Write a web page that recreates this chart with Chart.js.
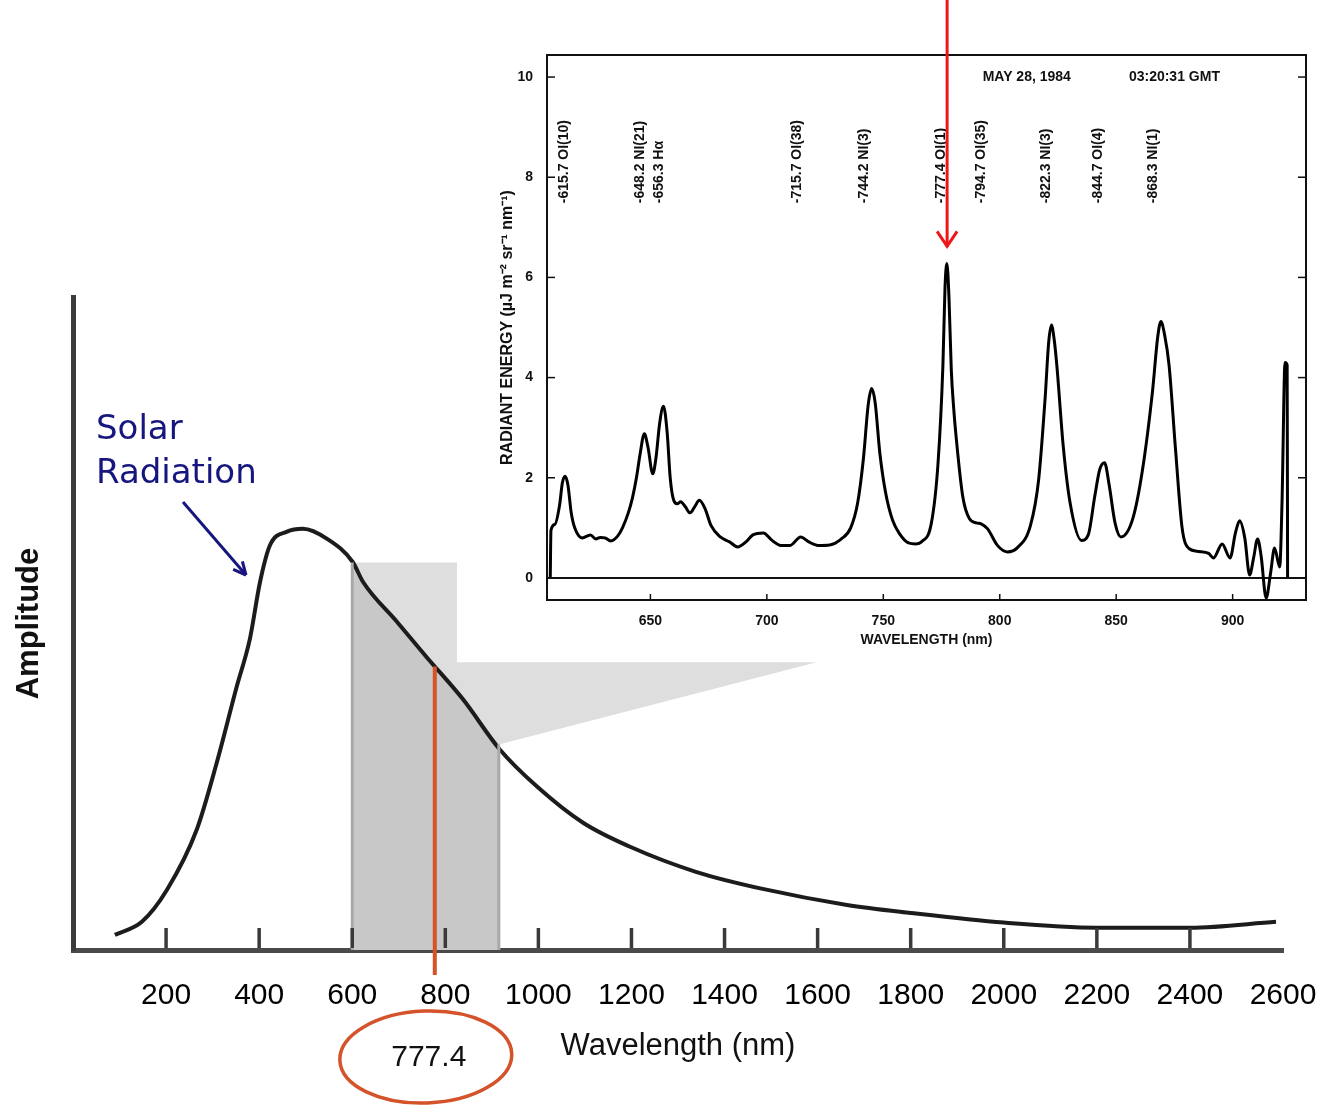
<!DOCTYPE html>
<html>
<head>
<meta charset="utf-8">
<script src="https://cdn.jsdelivr.net/npm/chart.js@4.4.1/dist/chart.umd.min.js"></script>
<style>
  html, body { margin: 0; padding: 0; background: #fff; }
  #wrap { position: relative; width: 1325px; height: 1106px; overflow: hidden; }
  #mainChart { position: absolute; left: 0; top: 0; }
  #insetChart { position: absolute; left: 480px; top: 0; }
</style>
</head>
<body>
<div id="wrap">
  <canvas id="mainChart" width="1325" height="1106"></canvas>
  <canvas id="insetChart" width="845" height="660"></canvas>
</div>
<script>
/* ---------- main plot: solar radiation curve ---------- */
const solarNm  = [90, 148, 202, 266, 309, 352, 380, 402, 423, 460, 494, 546, 601, 623, 696, 760, 838, 917, 997, 1096, 1197, 1340, 1482, 1663, 1800, 2000, 2200, 2400, 2585];
const solarAmp = [3.6, 6.7, 14.3, 28.6, 44.5, 62.6, 73.8, 87.4, 96, 99.3, 100, 97.6, 92.1, 87.4, 77.9, 69.5, 59.5, 47.6, 38.8, 30.2, 24.5, 18.5, 14.5, 10.7, 8.8, 6.5, 5.3, 5.3, 6.7];
const mainXTicks = [200, 400, 600, 800, 1000, 1200, 1400, 1600, 1800, 2000, 2200, 2400, 2600];
const bandNm = [600, 915];
const markNm = 777.4;

/* ---------- inset: emission spectrum ---------- */
const specNm  = [607.0, 607.3, 609, 611, 612.2, 613.4, 614.6, 616, 617.5, 620.7, 624.3, 626.5, 628.5, 630.5, 633, 636, 638, 640.5,
  642.3, 644, 645.5, 647.4, 649, 651, 652.4, 654, 655.6, 657.2, 658.5, 660, 661.5, 663, 665, 667, 669, 671, 673.5, 676, 680, 684,
  687.5, 691, 694, 698.5, 702, 706, 710, 714.5, 718, 722, 727, 732, 736, 739, 741.5, 743.5, 745, 746.5, 748.5, 751, 754, 757,
  760.8, 764, 766.4, 770.7, 773.5, 775.6, 776.5, 777.3, 778.2, 779.2, 780.2, 781.3, 784.1, 787, 790, 792, 794.8, 799, 803.3, 807.5,
  813.2, 816.7, 819.5, 821, 822.2, 823.4, 824.5, 827.3, 830.2, 835.1, 838, 840.8, 842.9, 845, 847, 849.5, 852, 857.1, 861.3,
  865.6, 867.8, 869.2, 870.8, 872.7, 875.5, 878.3, 881.2, 885.4, 889.7, 891.8, 895.5, 898.9, 901.2, 903, 905.2, 907.3, 909,
  910.7, 912.2, 914.4, 916.3, 918, 920.2, 921.2, 922.5, 923.4, 923.6];
const specVal = [0, 0.95, 1.07, 1.45, 1.9, 2.03, 1.85, 1.3, 1.0, 0.8, 0.86, 0.78, 0.81, 0.8, 0.74, 0.84, 1.0, 1.3,
  1.6, 2.0, 2.45, 2.88, 2.6, 2.08, 2.4, 3.1, 3.43, 2.9, 2.0, 1.55, 1.48, 1.52, 1.42, 1.3, 1.42, 1.55, 1.38, 1.05, 0.82, 0.72,
  0.62, 0.72, 0.86, 0.9, 0.76, 0.65, 0.65, 0.82, 0.72, 0.65, 0.66, 0.78, 1.0, 1.5, 2.4, 3.45, 3.78, 3.5, 2.5, 1.7, 1.15, 0.88,
  0.7, 0.68, 0.72, 1.11, 2.29, 4.25, 5.8, 6.28, 5.6, 4.15, 3.4, 2.8, 1.63, 1.18, 1.1, 1.08, 0.98, 0.65, 0.52, 0.6,
  1.05, 1.96, 3.6, 4.7, 5.05, 4.75, 4.25, 2.61, 1.5, 0.75, 0.86, 1.63, 2.16, 2.3, 1.85, 1.1, 0.82, 1.18, 2.16,
  3.73, 4.8, 5.12, 4.85, 4.25, 2.55, 1.0, 0.59, 0.53, 0.49, 0.4, 0.68, 0.4, 0.9, 1.14, 0.8, 0.06, 0.4,
  0.78, 0.45, -0.4, 0.1, 0.6, 0.22, 1.5, 4.3, 4.25, 0];
const insetXTicks = [650, 700, 750, 800, 850, 900];
const insetYTicks = [0, 2, 4, 6, 8, 10];
const lineNm    = [615.7, 648.2, 656.3, 715.7, 744.2, 777.4, 794.7, 822.3, 844.7, 868.3];
const lineNames = ['-615.7 OI(10)', '-648.2 NI(21)', '-656.3 H\u03b1', '-715.7 OI(38)', '-744.2 NI(3)', '-777.4 OI(1)',
  '-794.7 OI(35)', '-822.3 NI(3)', '-844.7 OI(4)', '-868.3 NI(1)'];

const SANS = '"Liberation Sans", Arial, Helvetica, sans-serif';

function line(ctx, x1, y1, x2, y2) {
    ctx.beginPath();
    ctx.moveTo(x1, y1);
    ctx.lineTo(x2, y2);
    ctx.stroke();
}

// linear lookup on the solar curve, only used to place the red marker's top
function solarAt(nm) {
    for (let i = 1; i < solarNm.length; i++) {
        if (nm <= solarNm[i]) {
            const t = (nm - solarNm[i - 1]) / (solarNm[i] - solarNm[i - 1]);
            return solarAmp[i - 1] + t * (solarAmp[i] - solarAmp[i - 1]);
        }
    }
    return solarAmp[solarAmp.length - 1];
}

// grey band under the curve between bandNm[0] and bandNm[1]
function bandFill(context) {
    const chart = context.chart;
    const area = chart.chartArea;
    if (!area || !chart.scales.x) return 'rgba(0,0,0,0)';
    const x = chart.scales.x;
    const w = area.right - area.left;
    const p1 = (x.getPixelForValue(bandNm[0]) - area.left) / w;
    const p2 = (x.getPixelForValue(bandNm[1]) - area.left) / w;
    const g = chart.ctx.createLinearGradient(area.left, 0, area.right, 0);
    g.addColorStop(0, 'rgba(200,200,200,0)');
    g.addColorStop(p1, 'rgba(200,200,200,0)');
    g.addColorStop(p1, '#c8c8c8');
    g.addColorStop(p2, '#c8c8c8');
    g.addColorStop(p2, 'rgba(200,200,200,0)');
    g.addColorStop(1, 'rgba(200,200,200,0)');
    return g;
}

const mainDecor = {
    id: 'mainDecor',
    beforeDatasetsDraw(chart) {
        const { ctx, scales: { x, y } } = chart;
        // light wedge leading from the band to the inset
        ctx.save();
        ctx.fillStyle = '#dedede';
        ctx.beginPath();
        ctx.moveTo(x.getPixelForValue(600), y.getPixelForValue(92));
        ctx.lineTo(x.getPixelForValue(825), y.getPixelForValue(92));
        ctx.lineTo(x.getPixelForValue(825), y.getPixelForValue(68.3));
        ctx.lineTo(x.getPixelForValue(1598), y.getPixelForValue(68.3));
        ctx.lineTo(x.getPixelForValue(915), y.getPixelForValue(48.8));
        ctx.lineTo(x.getPixelForValue(915), y.getPixelForValue(0));
        ctx.lineTo(x.getPixelForValue(600), y.getPixelForValue(0));
        ctx.closePath();
        ctx.fill();
        ctx.restore();
    },
    afterDatasetsDraw(chart) {
        const { ctx, chartArea: a, scales: { x, y } } = chart;
        ctx.save();

        // band edges
        ctx.strokeStyle = '#a9a9a9';
        ctx.lineWidth = 3;
        line(ctx, x.getPixelForValue(bandNm[0]), y.getPixelForValue(92), x.getPixelForValue(bandNm[0]), a.bottom);
        line(ctx, x.getPixelForValue(bandNm[1]), y.getPixelForValue(48.8), x.getPixelForValue(bandNm[1]), a.bottom);

        // tick marks standing inside the plot
        ctx.strokeStyle = '#3a3a3a';
        ctx.lineWidth = 3.5;
        mainXTicks.filter(v => v < x.max).forEach(v => {
            const px = x.getPixelForValue(v);
            line(ctx, px, a.bottom - 2, px, a.bottom - 22);
        });

        // red marker at 777.4 nm
        const mx = x.getPixelForValue(markNm);
        ctx.strokeStyle = '#d4532b';
        ctx.lineWidth = 4;
        line(ctx, mx, y.getPixelForValue(solarAt(markNm)), mx, a.bottom + 25);

        ctx.lineWidth = 3.5;
        ctx.beginPath();
        ctx.ellipse(mx - 9, 1057, 86, 46, -0.04, 0, Math.PI * 2);
        ctx.stroke();

        ctx.fillStyle = '#111';
        ctx.font = '30px ' + SANS;
        ctx.textAlign = 'center';
        ctx.textBaseline = 'middle';
        ctx.fillText(String(markNm), mx - 6, 1058);

        // "Solar Radiation" label with arrow
        ctx.fillStyle = '#16167e';
        ctx.strokeStyle = '#16167e';
        ctx.font = '34px "DejaVu Sans", Verdana, sans-serif';
        ctx.textAlign = 'left';
        ctx.fillText('Solar', 96, 430);
        ctx.fillText('Radiation', 96, 474);
        ctx.lineWidth = 3;
        const ax1 = 183, ay1 = 502, ax2 = 246, ay2 = 575;
        line(ctx, ax1, ay1, ax2, ay2);
        const ang = Math.atan2(ay2 - ay1, ax2 - ax1);
        line(ctx, ax2, ay2, ax2 - 14 * Math.cos(ang - 0.45), ay2 - 14 * Math.sin(ang - 0.45));
        line(ctx, ax2, ay2, ax2 - 14 * Math.cos(ang + 0.45), ay2 - 14 * Math.sin(ang + 0.45));

        ctx.restore();
    }
};

new Chart(document.getElementById('mainChart'), {
    type: 'line',
    data: {
        datasets: [{
            data: solarNm.map((nm, i) => ({ x: nm, y: solarAmp[i] })),
            borderColor: '#1c1c1c',
            borderWidth: 4,
            pointRadius: 0,
            cubicInterpolationMode: 'monotone',
            fill: 'origin',
            backgroundColor: bandFill
        }]
    },
    options: {
        responsive: false,
        animation: false,
        events: [],
        layout: { padding: { left: 0, top: 297, right: 42, bottom: 0 } },
        plugins: { legend: { display: false }, tooltip: { enabled: false } },
        scales: {
            x: {
                type: 'linear',
                min: 0,
                max: 2600,
                afterBuildTicks: s => { s.ticks = mainXTicks.map(v => ({ value: v })); },
                afterFit: s => { s.height = 156; s.paddingLeft = 0; s.paddingRight = 0; },
                grid: { display: false },
                border: { color: '#4a4a4a', width: 5 },
                ticks: {
                    color: '#000',
                    font: { family: SANS, size: 30 },
                    padding: 20,
                    autoSkip: false,
                    maxRotation: 0,
                    callback: v => String(v)
                },
                title: {
                    display: true,
                    text: 'Wavelength (nm)',
                    color: '#111',
                    font: { family: SANS, size: 31 },
                    padding: { top: 0, bottom: 41 }
                }
            },
            y: {
                min: 0,
                max: 155,
                afterFit: s => { s.width = 73; },
                grid: { display: false },
                border: { color: '#3c3c3c', width: 5 },
                ticks: { display: false },
                title: {
                    display: true,
                    text: 'Amplitude',
                    color: '#111',
                    font: { family: SANS, size: 31, weight: 'bold' },
                    padding: { top: 11, bottom: 0 }
                }
            }
        }
    },
    plugins: [mainDecor]
});

/* ---------- inset chart ---------- */
const insetDecor = {
    id: 'insetDecor',
    beforeDatasetsDraw(chart) {
        const { ctx, chartArea: a, scales: { y } } = chart;
        ctx.save();
        ctx.fillStyle = '#fff';
        ctx.fillRect(a.left, a.top, a.right - a.left, a.bottom - a.top);
        ctx.strokeStyle = '#111';
        ctx.lineWidth = 2;
        const y0 = y.getPixelForValue(0);
        line(ctx, a.left, y0, a.right, y0);
        ctx.restore();
    },
    afterDatasetsDraw(chart) {
        const { ctx, chartArea: a, scales: { x, y } } = chart;
        ctx.save();
        ctx.strokeStyle = '#111';
        ctx.lineWidth = 2;
        ctx.strokeRect(a.left, a.top, a.right - a.left, a.bottom - a.top);

        ctx.lineWidth = 1.5;
        insetYTicks.forEach(v => {
            const py = y.getPixelForValue(v);
            line(ctx, a.left, py, a.left + 8, py);
            line(ctx, a.right - 8, py, a.right, py);
        });
        insetXTicks.forEach(v => {
            const px = x.getPixelForValue(v);
            line(ctx, px, a.bottom, px, a.bottom - 6);
        });

        // emission line identifications
        ctx.fillStyle = '#111';
        ctx.font = 'bold 14px ' + SANS;
        ctx.textAlign = 'left';
        ctx.textBaseline = 'middle';
        const baseY = y.getPixelForValue(7.48);
        lineNm.forEach((nm, i) => {
            ctx.save();
            ctx.translate(x.getPixelForValue(nm) - 6, baseY);
            ctx.rotate(-Math.PI / 2);
            ctx.fillText(lineNames[i], 0, 0);
            ctx.restore();
        });

        ctx.textAlign = 'center';
        ctx.fillText('MAY 28, 1984', x.getPixelForValue(811.6), y.getPixelForValue(10));
        ctx.fillText('03:20:31 GMT', x.getPixelForValue(875), y.getPixelForValue(10));
        ctx.restore();
    },
    afterDraw(chart) {
        const { ctx, scales: { x, y } } = chart;
        // red arrow pointing at the 777.4 nm line
        const px = x.getPixelForValue(markNm);
        const tip = y.getPixelForValue(6.62);
        ctx.save();
        ctx.strokeStyle = '#ee1616';
        ctx.lineWidth = 3;
        line(ctx, px, 0, px, tip);
        ctx.beginPath();
        ctx.moveTo(px - 10, tip - 15);
        ctx.lineTo(px, tip);
        ctx.lineTo(px + 10, tip - 15);
        ctx.stroke();
        ctx.restore();
    }
};

new Chart(document.getElementById('insetChart'), {
    type: 'line',
    data: {
        datasets: [{
            data: specNm.map((nm, i) => ({ x: nm, y: specVal[i] })),
            borderColor: '#000',
            borderWidth: 3,
            pointRadius: 0,
            cubicInterpolationMode: 'monotone',
            fill: false
        }]
    },
    options: {
        responsive: false,
        animation: false,
        events: [],
        layout: { padding: { left: 0, top: 55, right: 19, bottom: 0 } },
        plugins: { legend: { display: false }, tooltip: { enabled: false } },
        scales: {
            x: {
                type: 'linear',
                min: 605.6,
                max: 931.5,
                afterBuildTicks: s => { s.ticks = insetXTicks.map(v => ({ value: v })); },
                afterFit: s => { s.height = 60; s.paddingLeft = 0; s.paddingRight = 0; },
                grid: { display: false },
                border: { display: false },
                ticks: {
                    color: '#111',
                    font: { family: SANS, size: 14, weight: 'bold' },
                    padding: 5,
                    autoSkip: false,
                    maxRotation: 0,
                    callback: v => String(v)
                },
                title: {
                    display: true,
                    text: 'WAVELENGTH (nm)',
                    color: '#111',
                    font: { family: SANS, size: 14, weight: 'bold' },
                    padding: { top: 0, bottom: 11 }
                }
            },
            y: {
                min: -0.44,
                max: 10.44,
                afterBuildTicks: s => { s.ticks = insetYTicks.map(v => ({ value: v })); },
                afterFit: s => { s.width = 67; },
                grid: { display: false },
                border: { display: false },
                ticks: {
                    color: '#111',
                    font: { family: SANS, size: 14, weight: 'bold' },
                    padding: 6,
                    callback: v => String(v)
                },
                title: {
                    display: true,
                    text: 'RADIANT ENERGY (\u00b5J m\u207b\u00b2 sr\u207b\u00b9 nm\u207b\u00b9)',
                    color: '#111',
                    font: { family: SANS, size: 16, weight: 'bold' },
                    padding: { top: 18, bottom: 0 }
                }
            }
        }
    },
    plugins: [insetDecor]
});
</script>
</body>
</html>
